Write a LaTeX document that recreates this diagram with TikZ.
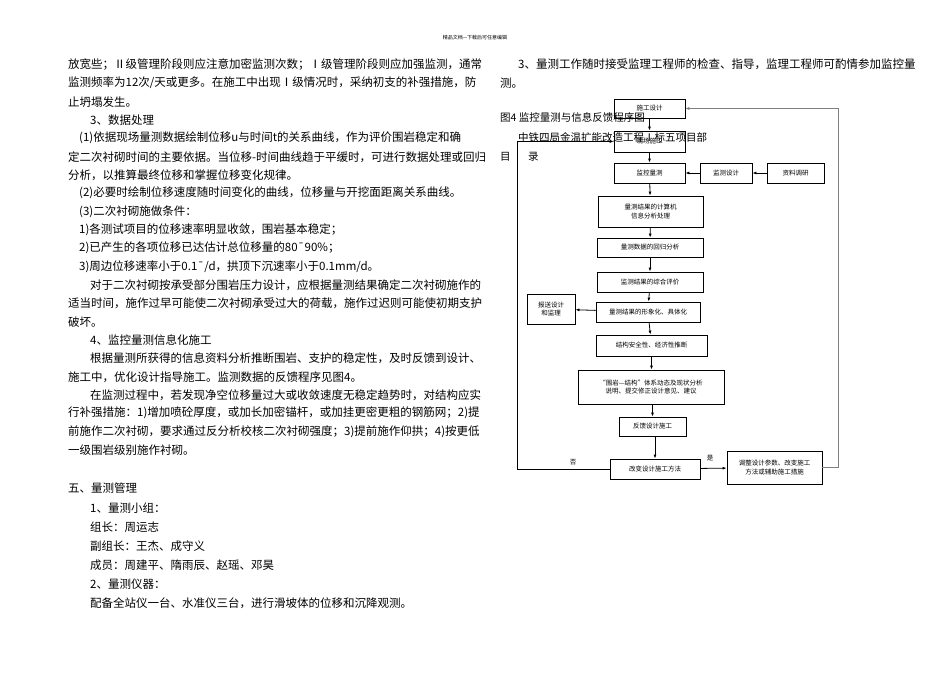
\documentclass[tikz,border=0pt]{standalone}
\usepackage{fontspec}
\setmainfont{Noto Sans CJK SC}
\usetikzlibrary{arrows.meta}
\begin{document}
\begin{tikzpicture}[x=1pt,y=-1pt,
 t/.style={anchor=west,inner sep=0pt,font=\fontsize{11.5}{13}\selectfont},
 b/.style={draw,thick,inner sep=0pt,align=center,font=\fontsize{6.5}{8.5}\selectfont},
 a/.style={-{Latex[length=4pt,width=3pt]},thick}]
\useasboundingbox (0,0) rectangle (950,672);
\node[inner sep=0pt,font=\fontsize{5}{6}\selectfont] (hd) at (475,38) {精品文档---下载后可任意编辑};
% left column
\node[t] (l1) at (68,65) {放宽些；Ⅱ级管理阶段则应注意加密监测次数；Ⅰ级管理阶段则应加强监测，通常};
\node[t] (l2) at (68,83) {监测频率为12次/天或更多。在施工中出现Ⅰ级情况时，采纳初支的补强措施，防};
\node[t] (l3) at (68,102) {止坍塌发生。};
\node[t] (l4) at (90,120) {3、数据处理};
\node[t] (l5) at (79,138) {(1)依据现场量测数据绘制位移u与时间t的关系曲线，作为评价围岩稳定和确};
\node[t] (l6) at (68,157) {定二次衬砌时间的主要依据。当位移-时间曲线趋于平缓时，可进行数据处理或回归};
\node[t] (l7) at (68,175) {分析，以推算最终位移和掌握位移变化规律。};
\node[t] (l8) at (79,193) {(2)必要时绘制位移速度随时间变化的曲线，位移量与开挖面距离关系曲线。};
\node[t] (l9) at (79,212) {(3)二次衬砌施做条件：};
\node[t] (l10) at (79,230) {1)各测试项目的位移速率明显收敛，围岩基本稳定；};
\node[t] (l11) at (79,248) {2)已产生的各项位移已达估计总位移量的80¯90\%；};
\node[t] (l12) at (79,267) {3)周边位移速率小于0.1¯/d，拱顶下沉速率小于0.1mm/d。};
\node[t] (l13) at (90,285) {对于二次衬砌按承受部分围岩压力设计，应根据量测结果确定二次衬砌施作的};
\node[t] (l14) at (68,303) {适当时间，施作过早可能使二次衬砌承受过大的荷载，施作过迟则可能使初期支护};
\node[t] (l15) at (68,322) {破坏。};
\node[t] (l16) at (90,340) {4、监控量测信息化施工};
\node[t] (l17) at (90,358) {根据量测所获得的信息资料分析推断围岩、支护的稳定性，及时反馈到设计、};
\node[t] (l18) at (68,377) {施工中，优化设计指导施工。监测数据的反馈程序见图4。};
\node[t] (l19) at (90,395) {在监测过程中，若发现净空位移量过大或收敛速度无稳定趋势时，对结构应实};
\node[t] (l20) at (68,413) {行补强措施：1)增加喷砼厚度，或加长加密锚杆，或加挂更密更粗的钢筋网；2)提};
\node[t] (l21) at (68,432) {前施作二次衬砌，要求通过反分析校核二次衬砌强度；3)提前施作仰拱；4)按更低};
\node[t] (l22) at (68,450) {一级围岩级别施作衬砌。};
\node[t] (l23) at (68,488) {五、量测管理};
\node[t] (l24) at (90,508) {1、量测小组：};
\node[t] (l25) at (90,527) {组长：周运志};
\node[t] (l26) at (90,546) {副组长：王杰、成守义};
\node[t] (l27) at (90,565) {成员：周建平、隋雨辰、赵瑶、邓昊};
\node[t] (l28) at (90,584) {2、量测仪器：};
\node[t] (l29) at (90,603) {配备全站仪一台、水准仪三台，进行滑坡体的位移和沉降观测。};
% right column text
\node[t] (r1) at (518,64) {3、量测工作随时接受监理工程师的检查、指导，监理工程师可酌情参加监控量};
\node[t] (r2) at (500,83) {测。};
% flowchart
\node[b,minimum width=71pt,minimum height=19pt] (sg) at (649.5,108.5) {施工设计};
\node[b,minimum width=71pt,minimum height=21pt] (xc) at (649.5,141.5) {现场施工};
\node[b,minimum width=71pt,minimum height=20pt] (jk) at (649.5,173) {监控量测};
\node[b,minimum width=52pt,minimum height=20pt] (jc) at (726,173) {监测设计};
\node[b,minimum width=57pt,minimum height=20pt] (zl) at (795.5,173) {资料调研};
\node[b,minimum width=105pt,minimum height=31pt] (js) at (650.5,211.5) {量测结果的计算机\\信息分析处理};
\node[b,minimum width=106pt,minimum height=19pt] (hg) at (650,247.5) {量测数据的回归分析};
\node[b,minimum width=106pt,minimum height=20pt] (zh) at (650,282) {监测结果的综合评价};
\node[b,minimum width=48pt,minimum height=30pt] (bs) at (551,309) {报送设计\\和监理};
\node[b,minimum width=104pt,minimum height=20pt] (xx) at (648,312) {量测结果的形象化、具体化};
\node[b,minimum width=111pt,minimum height=21pt] (aq) at (651.5,345.5) {结构安全性、经济性推断};
\node[b,minimum width=146pt,minimum height=34pt] (wy) at (651,387) {“围岩—结构”体系动态及现状分析\\说明、提交修正设计意见、建议};
\node[b,minimum width=67pt,minimum height=19pt] (fk) at (652.5,426.5) {反馈设计施工};
\node[b,minimum width=90pt,minimum height=20pt] (gb) at (655,469) {改变设计施工方法};
\node[b,minimum width=95pt,minimum height=33pt] (tz) at (774.5,467.5) {调整设计参数、改变施工\\方法或辅助施工措施};
\node[inner sep=0pt,font=\fontsize{6.5}{8}\selectfont] (fou) at (573,462) {否};
\node[inner sep=0pt,font=\fontsize{6.5}{8}\selectfont] (shi) at (710,458) {是};
\draw[a] (sg) -- (xc);
\draw[a] (xc) -- (jk);
\draw[a] (zl) -- (jc);
\draw[a] (jc) -- (jk);
\draw[a] (jk) -- (js);
\draw[a] (js) -- (hg);
\draw[a] (hg) -- (zh);
\draw[a] (zh) -- (xx);
\draw[a] (xx) -- (bs);
\draw[a] (xx) -- (aq);
\draw[a] (aq.south) -- (aq.south|-wy.north);
\draw[a] (wy.south-|fk.north) -- (fk.north);
\draw[a] (fk.south-|gb.north) -- (gb.north);
\draw[a] (gb) -- (tz);
\coordinate (cl) at (517,469);
\coordinate (cr) at (838,467.5);
\draw[a] (gb.west) -- (cl) |- (xc.west);
\draw[a,gray,thin] (tz.east) -- (cr) |- (sg.east);
% caption (overlapping, as printed)
\node[t,font=\fontsize{10.5}{12}\selectfont] (cap) at (500,117) {图4 监控量测与信息反馈程序图};
\node[t,font=\fontsize{10.5}{12}\selectfont] (cap2) at (518,137) {中铁四局金温扩能改造工程Ⅰ标五项目部};
\node[t,font=\fontsize{10.5}{12}\selectfont] (cap3) at (500,157) {目};
\node[t,font=\fontsize{10.5}{12}\selectfont] (cap4) at (528,157) {录};
\end{tikzpicture}
\end{document}
